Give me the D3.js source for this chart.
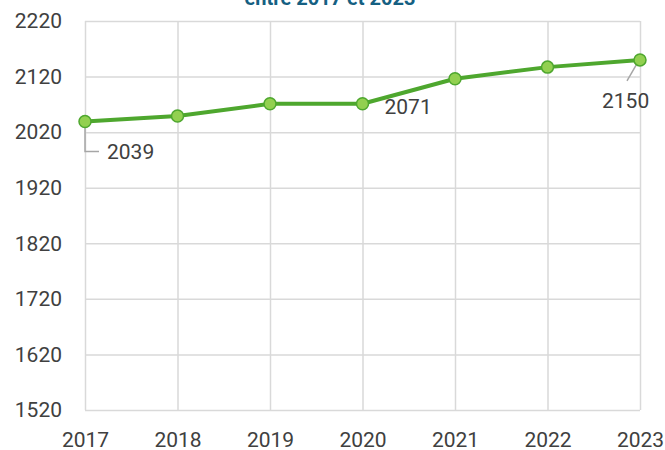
<!DOCTYPE html>
<html>
<head>
<meta charset="utf-8">
<script src="https://cdn.jsdelivr.net/npm/d3@7"></script>
<style>
  body { margin: 0; background: #fff; }
  svg { display: block; font-family: Roboto, "Liberation Sans", sans-serif; }
</style>
</head>
<body>
<div id="chart"></div>
<script>
// chart data
var years = ["2017", "2018", "2019", "2020", "2021", "2022", "2023"];
var values = [2039, 2049, 2071, 2071, 2116, 2137, 2150];
var yTicks = [1520, 1620, 1720, 1820, 1920, 2020, 2120, 2220];
var titleText = "entre 2017 et 2023";
// which points carry a data label
var labelled = ["2017", "2020", "2023"];

(function () {
    var w = 665, h = 450;
    var left = 85, right = 640, top = 21, bottom = 410;
    var gridColor = "#d9d9d9", textColor = "#404040";

    var svg = d3.select("#chart").append("svg")
        .attr("width", w)
        .attr("height", h);

    var x = d3.scalePoint().domain(years).range([left, right]);
    var y = d3.scaleLinear().domain([1520, 2220]).range([bottom, top]);

    // title, mostly cut off by the top edge
    svg.append("text")
        .attr("x", 330)
        .attr("y", 5)
        .attr("text-anchor", "middle")
        .attr("font-size", 20)
        .attr("font-weight", "bold")
        .attr("fill", "#156082")
        .text(titleText);

    // horizontal grid + y labels
    var yAxis = d3.axisLeft(y).tickValues(yTicks).tickSize(-(right - left)).tickPadding(23).tickFormat(d3.format("d"));
    var gy = svg.append("g").attr("transform", "translate(" + left + ",0)").call(yAxis);
    gy.select(".domain").remove();
    gy.selectAll(".tick line").attr("stroke", gridColor).attr("stroke-width", 1.5);
    gy.selectAll(".tick text").attr("fill", textColor).attr("font-size", 21).attr("font-family", "Roboto");

    // vertical grid + x labels
    var xAxis = d3.axisBottom(x).tickSize(-(bottom - top)).tickPadding(22);
    var gx = svg.append("g").attr("transform", "translate(0," + bottom + ")").call(xAxis);
    gx.select(".domain").remove();
    gx.selectAll(".tick line").attr("stroke", gridColor).attr("stroke-width", 1.5);
    gx.selectAll(".tick text").attr("fill", textColor).attr("font-size", 21).attr("font-family", "Roboto");

    var data = years.map(function (d, i) { return {year: d, value: values[i]}; });

    // leader lines for the labels that sit away from their point
    var p0 = data[0], p6 = data[6];
    svg.append("path")
        .attr("d", "M" + x(p0.year) + "," + (y(p0.value) + 4) + "V" + (y(p0.value) + 30) + "H" + (x(p0.year) + 14))
        .attr("fill", "none").attr("stroke", "#a6a6a6").attr("stroke-width", 1.5);
    svg.append("path")
        .attr("d", "M" + (x(p6.year) - 2) + "," + (y(p6.value) + 2) + "L" + (x(p6.year) - 13) + "," + (y(p6.value) + 21))
        .attr("fill", "none").attr("stroke", "#a6a6a6").attr("stroke-width", 1.5);

    // line
    var line = d3.line()
        .x(function (d) { return x(d.year); })
        .y(function (d) { return y(d.value); });

    svg.append("path")
        .datum(data)
        .attr("d", line)
        .attr("fill", "none")
        .attr("stroke", "#4EA72E")
        .attr("stroke-width", 4)
        .attr("stroke-linejoin", "round");

    svg.selectAll("circle.pt")
        .data(data).enter().append("circle")
        .attr("class", "pt")
        .attr("cx", function (d) { return x(d.year); })
        .attr("cy", function (d) { return y(d.value); })
        .attr("r", 6)
        .attr("fill", "#92D050")
        .attr("stroke", "#4EA72E")
        .attr("stroke-width", 1.5);

    // data labels (offsets from the point)
    var offs = {
        "2017": [22, 37],
        "2020": [22, 10],
        "2023": [-38, 48]
    };
    svg.selectAll("text.lbl")
        .data(data.filter(function (d) { return labelled.indexOf(d.year) >= 0; }))
        .enter().append("text")
        .attr("class", "lbl")
        .attr("x", function (d) { return x(d.year) + offs[d.year][0]; })
        .attr("y", function (d) { return y(d.value) + offs[d.year][1]; })
        .attr("fill", textColor)
        .attr("font-size", 21)
        .text(function (d) { return d.value; });
})();
</script>
</body>
</html>
